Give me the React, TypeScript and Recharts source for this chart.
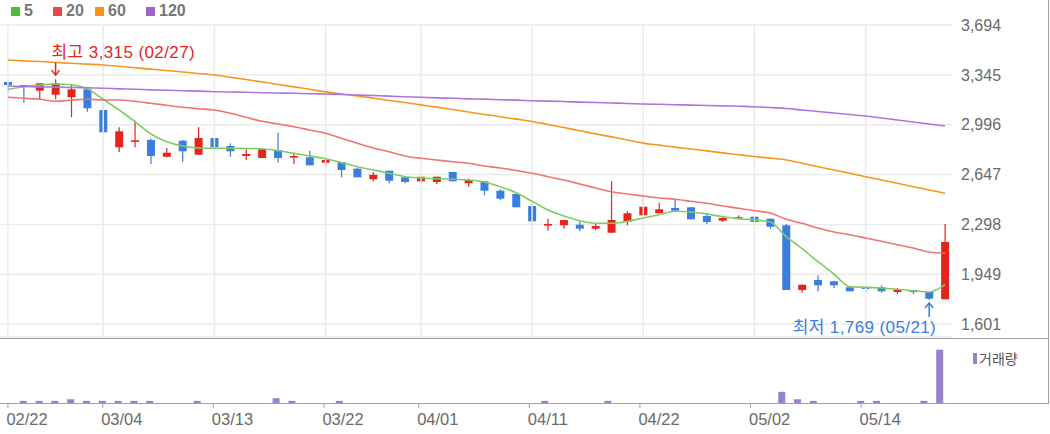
// Daily candles (02/22 ~ 05/22) with 5/20/60/120-day moving averages
// and a volume panel underneath. Red = up day, blue = down day.

import {
  ComposedChart,
  BarChart,
  Bar,
  Line,
  XAxis,
  YAxis,
  CartesianGrid,
  ReferenceLine,
  ReferenceDot,
} from "recharts";

const DATES = [
  "02/22", "02/23", "02/26", "02/27", "02/28", "02/29",
  "03/04", "03/05", "03/06", "03/07", "03/08", "03/11", "03/12", "03/13", "03/14", "03/15",
  "03/18", "03/19", "03/20", "03/21", "03/22", "03/25", "03/26", "03/27", "03/28", "03/29",
  "04/01", "04/02", "04/03", "04/04", "04/05", "04/08", "04/09", "04/11", "04/12",
  "04/15", "04/16", "04/17", "04/18", "04/19", "04/22", "04/23", "04/24", "04/25", "04/26",
  "04/29", "04/30", "05/02", "05/03", "05/07", "05/08", "05/09", "05/10", "05/13", "05/14",
  "05/16", "05/17", "05/20", "05/21", "05/22",
];

const OPEN = [
  3295, 3274, 3234, 3206, 3188, 3244, 3099, 2838, 2880, 2889, 2772, 2884, 2786, 2903, 2847, 2777,
  2763, 2819, 2768, 2768, 2730, 2735, 2688, 2614, 2674, 2628, 2600, 2595, 2665, 2586, 2600, 2534,
  2511, 2427, 2292, 2292, 2296, 2268, 2240, 2315, 2362, 2376, 2413, 2418, 2357, 2324, 2338, 2352,
  2338, 2292, 1839, 1909, 1900, 1858, 1858, 1858, 1825, 1839, 1825, 1774,
];
const HIGH = [
  3295, 3274, 3286, 3315, 3281, 3258, 3169, 2978, 3024, 2898, 2833, 2889, 2978, 2903, 2866, 2824,
  2824, 2940, 2796, 2814, 2754, 2735, 2698, 2665, 2674, 2637, 2632, 2632, 2665, 2618, 2600, 2544,
  2511, 2446, 2338, 2329, 2320, 2306, 2600, 2390, 2511, 2450, 2474, 2418, 2380, 2357, 2362, 2362,
  2338, 2301, 1876, 1942, 1900, 1867, 1872, 1872, 1853, 1839, 1825, 2301,
];
const LOW = [
  3218, 3150, 3169, 3174, 3048, 3087, 2943, 2805, 2838, 2721, 2768, 2735, 2786, 2819, 2772, 2749,
  2763, 2730, 2721, 2712, 2702, 2628, 2628, 2600, 2586, 2586, 2586, 2581, 2600, 2562, 2502, 2469,
  2418, 2315, 2254, 2268, 2250, 2259, 2240, 2292, 2362, 2376, 2394, 2334, 2301, 2315, 2334, 2315,
  2268, 1839, 1820, 1830, 1853, 1830, 1825, 1820, 1811, 1811, 1769, 1772,
];
const CLOSE = [
  3274, 3265, 3286, 3286, 3244, 3111, 2943, 2950, 2887, 2777, 2800, 2810, 2903, 2838, 2810, 2791,
  2824, 2763, 2777, 2712, 2749, 2679, 2628, 2646, 2604, 2595, 2632, 2632, 2600, 2609, 2534, 2478,
  2418, 2320, 2301, 2329, 2268, 2287, 2329, 2376, 2422, 2404, 2394, 2334, 2315, 2343, 2348, 2315,
  2282, 1839, 1876, 1872, 1872, 1830, 1848, 1830, 1839, 1825, 1778, 2175,
];

const MA5 = [
  3244, 3262, 3274, 3281, 3276, 3248, 3174, 3099, 3017, 2931, 2877, 2847, 2833, 2831, 2831, 2830,
  2828, 2814, 2796, 2777, 2758, 2730, 2702, 2679, 2656, 2632, 2623, 2618, 2614, 2609, 2595, 2562,
  2520, 2460, 2399, 2357, 2324, 2306, 2306, 2320, 2343, 2366, 2390, 2385, 2371, 2352, 2338, 2329,
  2315, 2212, 2128, 2037, 1951, 1862, 1858, 1853, 1844, 1834, 1825, 1876,
];
const MA20 = [
  3188, 3181, 3174, 3160, 3169, 3174, 3169, 3169, 3160, 3146, 3132, 3118, 3108, 3099, 3076, 3048,
  3020, 3001, 2982, 2959, 2936, 2901, 2866, 2833, 2807, 2777, 2761, 2749, 2737, 2726, 2707, 2693,
  2676, 2656, 2632, 2609, 2581, 2553, 2527, 2511, 2497, 2483, 2474, 2460, 2446, 2427, 2411, 2394,
  2378, 2334, 2306, 2273, 2245, 2226, 2203, 2180, 2156, 2133, 2105, 2096,
];
const MA60 = [
  3449, 3443, 3438, 3432, 3426, 3420, 3414, 3405, 3395, 3385, 3376, 3365, 3355, 3344, 3328, 3312,
  3295, 3278, 3261, 3244, 3226, 3211, 3197, 3182, 3166, 3151, 3135, 3119, 3102, 3085, 3068, 3052,
  3035, 3019, 2998, 2976, 2954, 2932, 2911, 2889, 2867, 2853, 2839, 2826, 2813, 2799, 2786, 2773,
  2762, 2749, 2726, 2702, 2679, 2656, 2632, 2609, 2586, 2562, 2539, 2516,
];
const MA120 = [
  3267, 3264, 3261, 3259, 3257, 3254, 3251, 3247, 3244, 3240, 3237, 3234, 3231, 3227, 3225, 3223,
  3220, 3218, 3216, 3213, 3211, 3208, 3203, 3200, 3196, 3192, 3188, 3184, 3181, 3177, 3175, 3171,
  3168, 3164, 3161, 3158, 3154, 3151, 3148, 3145, 3141, 3139, 3136, 3133, 3131, 3128, 3125, 3122,
  3116, 3110, 3099, 3089, 3078, 3068, 3057, 3043, 3029, 3015, 3001, 2987,
];

// relative volume (only the visible bars have a size)
const VOLUME = [
  0, 4, 4, 4, 7, 4, 4, 4, 4, 4, 0, 0, 4, 0, 0, 0,
  0, 9, 4, 0, 0, 4, 0, 0, 0, 0, 0, 0, 0, 0, 0, 0,
  0, 0, 4, 0, 0, 0, 4, 0, 0, 0, 0, 0, 0, 0, 0, 0,
  0, 21, 7, 4, 0, 0, 4, 4, 0, 0, 4, 100,
];

const PRICE_TICKS = [1601, 1949, 2298, 2647, 2996, 3345, 3694];
const DATE_TICKS = ["02/22", "03/04", "03/13", "03/22", "04/01", "04/11", "04/22", "05/02", "05/14"];
const HIGH_MARK = { date: "02/27", price: 3315 };
const LOW_MARK = { date: "05/21", price: 1769 };

const UP = "#e2261d";
const DOWN = "#3a7ee0";
const GRID = "#ebebeb";
const FRAME = "#a0a0a0";
const VOL = "#9a80c8";
const FONT = '"Liberation Sans", Arial, "Noto Sans CJK KR", sans-serif';

const LEGEND = [
  { label: "5", color: "#4fbd36", line: "#7fcd62" },
  { label: "20", color: "#e84a42", line: "#f07373" },
  { label: "60", color: "#f7901c", line: "#f7961f" },
  { label: "120", color: "#a163d0", line: "#ad76dc" },
];
const MA_KEYS = ["ma5", "ma20", "ma60", "ma120"];

const rows = DATES.map((date, i) => ({
  date,
  open: OPEN[i],
  high: HIGH[i],
  low: LOW[i],
  close: CLOSE[i],
  ma5: MA5[i],
  ma20: MA20[i],
  ma60: MA60[i],
  ma120: MA120[i],
  volume: VOLUME[i],
}));

const fmt = (v: number) => v.toLocaleString("en-US");

function Candle(props: any) {
  const { x, y, width, height, payload } = props;
  if (!payload || height == null) return null;
  const { open, close, high, low } = payload;
  const color = close >= open ? UP : DOWN;
  const ppu = high > low ? height / (high - low) : 0;
  const yOf = (v: number) => y + (high - v) * ppu;
  const top = yOf(Math.max(open, close));
  const bot = yOf(Math.min(open, close));
  const cx = x + width / 2;
  return (
    <g>
      <line x1={cx} x2={cx} y1={y} y2={y + height} stroke={color} strokeWidth={1.2} />
      <rect x={x} y={top} width={width} height={Math.max(1.6, bot - top)} fill={color} />
    </g>
  );
}

function DateTick(props: any) {
  const { x, y, payload } = props;
  return (
    <text x={x - 1.5} y={y + 15} textAnchor="start" fill="#6a6a6a" fontSize={16.5}>
      {payload.value}
    </text>
  );
}

function HighMarker(props: any) {
  const { cx, cy } = props;
  if (cx == null) return null;
  return (
    <g>
      <line x1={cx} x2={cx} y1={cy - 17} y2={cy - 4} stroke={UP} strokeWidth={1.5} />
      <polyline
        points={`${cx - 4},${cy - 9} ${cx},${cy - 4} ${cx + 4},${cy - 9}`}
        fill="none"
        stroke={UP}
        strokeWidth={1.5}
      />
      <text x={cx - 4} y={cy - 21} fill={UP} fontSize={17} letterSpacing={0.4}>
        최고 {fmt(HIGH_MARK.price)} ({HIGH_MARK.date})
      </text>
    </g>
  );
}

function LowMarker(props: any) {
  const { cx, cy } = props;
  if (cx == null) return null;
  return (
    <g>
      <line x1={cx} x2={cx} y1={cy + 3} y2={cy + 17} stroke={DOWN} strokeWidth={1.5} />
      <polyline
        points={`${cx - 4},${cy + 8} ${cx},${cy + 3} ${cx + 4},${cy + 8}`}
        fill="none"
        stroke={DOWN}
        strokeWidth={1.5}
      />
      <text x={cx + 7} y={cy + 33} textAnchor="end" fill={DOWN} fontSize={17} letterSpacing={0.4}>
        최저 {fmt(LOW_MARK.price)} ({LOW_MARK.date})
      </text>
    </g>
  );
}

const legendLeft = [11, 53, 95, 146];

export default function App() {
  return (
    <div
      style={{
        position: "absolute",
        left: 0,
        top: 0,
        width: 1050,
        height: 434,
        background: "#fff",
        fontFamily: FONT,
        overflow: "hidden",
      }}
    >
      {LEGEND.map((l, i) => (
        <div
          key={l.label}
          style={{
            position: "absolute",
            left: legendLeft[i],
            top: 2,
            display: "flex",
            alignItems: "center",
            gap: 4,
            fontSize: 16,
            fontWeight: "bold",
            color: "#777",
            lineHeight: "18px",
          }}
        >
          <span style={{ width: 9, height: 9, background: l.color, display: "inline-block" }} />
          <span>{l.label}</span>
        </div>
      ))}

      <div style={{ position: "absolute", left: 0, top: 0 }}>
        <ComposedChart
          width={1050}
          height={338}
          data={rows}
          margin={{ top: 25, right: 0, bottom: 1, left: 0 }}
        >
          <CartesianGrid vertical={false} stroke={GRID} strokeWidth={1.5} />
          <XAxis dataKey="date" hide />
          <YAxis
            orientation="right"
            width={97}
            domain={[1510, 3694]}
            allowDataOverflow
            ticks={PRICE_TICKS}
            interval={0}
            axisLine={false}
            tickLine={false}
            tickFormatter={fmt}
            tick={{ fill: "#6a6a6a", fontSize: 16 }}
          />
          {DATE_TICKS.map((d) => (
            <ReferenceLine key={d} x={d} stroke={GRID} strokeWidth={1.5} />
          ))}
          <Bar
            dataKey={(d: any) => [d.low, d.high]}
            barSize={8}
            shape={(p: any) => <Candle {...p} />}
            isAnimationActive={false}
          />
          {MA_KEYS.map((k, i) => (
            <Line
              key={k}
              dataKey={k}
              type="monotone"
              stroke={LEGEND[i].line}
              strokeWidth={1.6}
              dot={false}
              activeDot={false}
              isAnimationActive={false}
            />
          ))}
          <ReferenceDot
            x={HIGH_MARK.date}
            y={HIGH_MARK.price}
            ifOverflow="visible"
            shape={(p: any) => <HighMarker {...p} />}
          />
          <ReferenceDot
            x={LOW_MARK.date}
            y={LOW_MARK.price}
            ifOverflow="visible"
            shape={(p: any) => <LowMarker {...p} />}
          />
        </ComposedChart>
      </div>

      <div style={{ position: "absolute", left: 0, top: 338 }}>
        <BarChart
          width={1050}
          height={96}
          data={rows}
          margin={{ top: 1, right: 102, bottom: 0, left: 0 }}
        >
          <XAxis
            dataKey="date"
            ticks={DATE_TICKS}
            interval={0}
            height={31}
            axisLine={false}
            tickLine={{ stroke: FRAME }}
            tickSize={5}
            tick={<DateTick />}
          />
          <YAxis hide domain={[0, 120]} />
          <Bar dataKey="volume" fill={VOL} barSize={7} isAnimationActive={false} />
        </BarChart>
      </div>

      {/* panel frame */}
      <div style={{ position: "absolute", left: 0, top: 338, width: 1048, height: 1, background: FRAME }} />
      <div style={{ position: "absolute", left: 0, top: 403, width: 1048, height: 1, background: FRAME }} />
      <div style={{ position: "absolute", left: 1048, top: 0, width: 1, height: 404, background: FRAME }} />

      {/* volume legend */}
      <div
        style={{
          position: "absolute",
          left: 973,
          top: 348,
          display: "flex",
          alignItems: "center",
          gap: 2,
          fontSize: 14,
          color: "#555",
        }}
      >
        <span style={{ width: 4, height: 11, background: VOL, display: "inline-block" }} />
        <span>거래량</span>
      </div>
    </div>
  );
}
